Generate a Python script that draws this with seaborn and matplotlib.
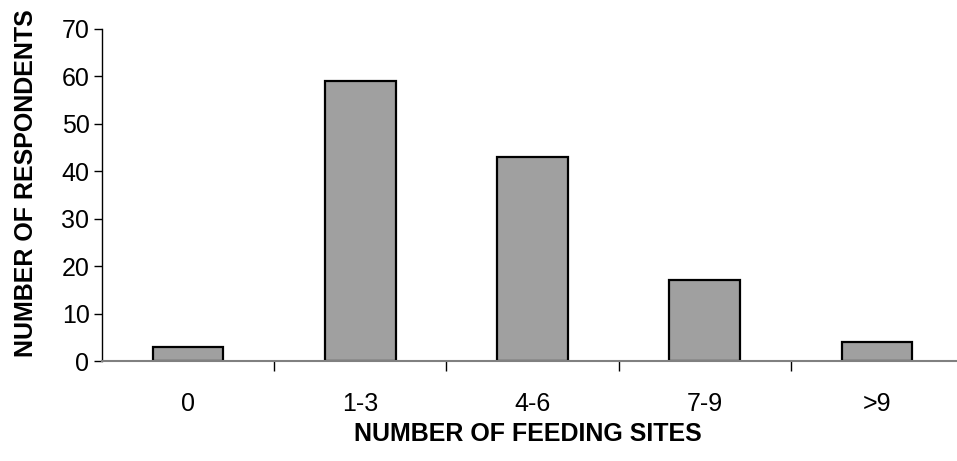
import matplotlib
matplotlib.use("Agg")
import matplotlib.pyplot as plt
import seaborn as sns
import pandas as pd
from matplotlib.ticker import FixedLocator

categories = ["0", "1-3", "4-6", "7-9", ">9"]
respondents = [3, 59, 43, 17, 4]
yticks = [0, 10, 20, 30, 40, 50, 60, 70]

sns.set_style("white")
plt.rcParams['font.family'] = ['Liberation Sans', 'DejaVu Sans']
plt.rcParams['text.color'] = 'black'
plt.rcParams['axes.labelcolor'] = 'black'
plt.rcParams['xtick.color'] = 'black'
plt.rcParams['ytick.color'] = 'black'

df = pd.DataFrame({"sites": categories, "n": respondents})

fig = plt.figure(figsize=(9.57, 4.61), dpi=100)
ax = fig.add_axes([102/957, 100/461, (963-102)/957, (361-29)/461])
sns.barplot(data=df, x="sites", y="n", color="#A0A0A0", saturation=1,
            width=0.41, edgecolor="black", linewidth=1.6, ax=ax)

ax.set_xlim(-0.5, 4.5)
ax.set_ylim(0, 70)
ax.set_yticks(yticks)
ax.tick_params(axis='y', which='major', direction='out', length=6, width=1,
               color='black', labelcolor='black', labelsize=18, left=True, pad=3)
ax.tick_params(axis='x', which='major', length=0, labelsize=18, labelcolor='black', pad=22)
ax.xaxis.set_minor_locator(FixedLocator([0.5, 1.5, 2.5, 3.5]))
ax.tick_params(axis='x', which='minor', direction='out', length=7, width=1,
               color='black', bottom=True)
for s in ['top', 'right']:
    ax.spines[s].set_visible(False)
ax.spines['left'].set_color('black')
ax.spines['left'].set_linewidth(1)
ax.spines['bottom'].set_color('#808080')
ax.spines['bottom'].set_linewidth(1.5)

ax.set_xlabel("NUMBER OF FEEDING SITES", fontsize=18, fontweight='bold', color='black')
ax.set_ylabel("NUMBER OF RESPONDENTS", fontsize=18, fontweight='bold', color='black')
ax.xaxis.set_label_coords((528-102)/(963-102), -(422-361)/(361-29))
ax.yaxis.set_label_coords(-(102-38)/(963-102), (361-183)/(361-29))

fig.savefig("out.png", dpi=100)
